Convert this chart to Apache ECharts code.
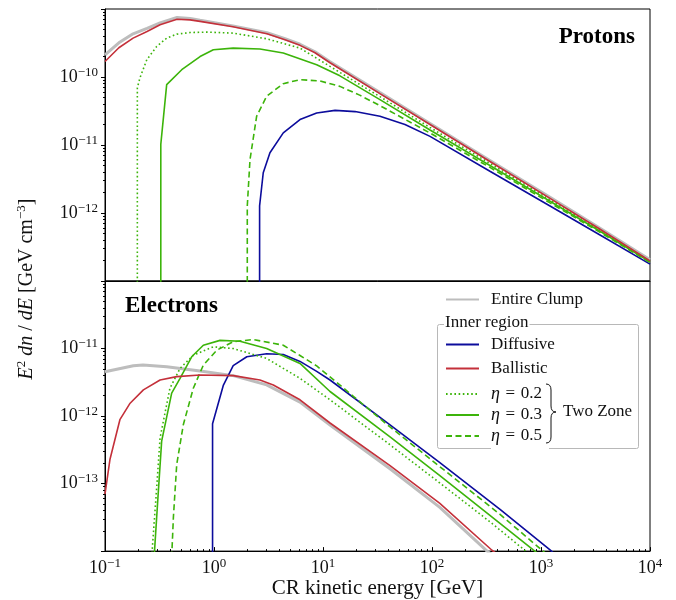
<!DOCTYPE html>
<html>
<head>
<meta charset="utf-8">
<script src="https://cdn.jsdelivr.net/npm/echarts@6/dist/echarts.min.js"></script>
<style>html,body{margin:0;padding:0;background:#fff}#c{width:676px;height:600px}</style>
</head>
<body>
<div id="c"></div>
<script>
// ---- Data: [CR kinetic energy (GeV), E^2 dN/dE (GeV cm^-3)] ----
const protonClump = [[0.1,2.12e-10],[0.134,3.18e-10],[0.181,4.32e-10],[0.243,5.2e-10],[0.320,6.25e-10],[0.458,7.53e-10],[0.603,7.28e-10],[0.745,6.81e-10],[1.49,5.65e-10],[3.06,4.47e-10],[4.48,3.65e-10],[6.15,3.03e-10],[8.45,2.35e-10],[11.6,1.68e-10],[33.3,5.89e-11],[95.9,2.07e-11],[340,5.93e-12],[1210,1.70e-12],[3480,5.97e-13],[1e4,2.06e-13]];
const protonBallistic = [[0.1,1.69e-10],[0.134,2.69e-10],[0.181,3.73e-10],[0.243,4.67e-10],[0.320,5.85e-10],[0.458,7.08e-10],[0.603,6.92e-10],[0.745,6.58e-10],[1.49,5.47e-10],[3.06,4.32e-10],[4.48,3.52e-10],[6.15,2.92e-10],[8.45,2.27e-10],[11.6,1.62e-10],[33.3,5.69e-11],[95.9,2.0e-11],[340,5.73e-12],[1210,1.64e-12],[3480,5.77e-13],[1e4,1.98e-13]];
const protonDiffusive = [[2.62,1e-20],[2.62,1.27e-12],[2.83,3.91e-12],[3.26,7.69e-12],[4.32,1.51e-11],[6.15,2.37e-11],[8.75,2.96e-11],[12.9,3.23e-11],[19.7,3.10e-11],[33.3,2.64e-11],[56.5,2.0e-11],[95.9,1.34e-11],[340,4.11e-12],[1210,1.27e-12],[3480,4.74e-13],[1e4,1.77e-13]];
const protonEta02 = [[0.198,1e-20],[0.198,6.9e-11],[0.209,9.66e-11],[0.242,1.80e-10],[0.298,2.81e-10],[0.368,3.73e-10],[0.455,4.27e-10],[0.603,4.51e-10],[0.857,4.57e-10],[1.50,4.42e-10],[3.04,3.65e-10],[6.15,2.66e-10],[11.6,1.43e-10],[33.3,5.14e-11],[95.9,1.81e-11],[340,5.36e-12],[1210,1.56e-12],[3480,5.57e-13],[1e4,1.94e-13]];
const protonEta03 = [[0.325,1e-20],[0.325,1.02e-11],[0.368,7.71e-11],[0.506,1.28e-10],[0.745,2.0e-10],[0.986,2.51e-10],[1.50,2.66e-10],[2.64,2.58e-10],[4.32,2.25e-10],[8.75,1.51e-10],[14.3,1.04e-10],[33.3,4.65e-11],[95.9,1.66e-11],[340,5.0e-12],[1210,1.49e-12],[3480,5.39e-13],[1e4,1.91e-13]];
const protonEta05 = [[2.02,1e-20],[2.02,1.27e-12],[2.14,6.12e-12],[2.46,2.64e-11],[3.04,5.2e-11],[4.32,7.98e-11],[6.15,9.13e-11],[9.38,8.73e-11],[14.3,7.28e-11],[21.7,5.41e-11],[33.3,3.79e-11],[95.9,1.50e-11],[340,4.68e-12],[1210,1.41e-12],[3480,5.21e-13],[1e4,1.87e-13]];

const electronClump = [[0.1,4.54e-12],[0.182,5.57e-12],[0.223,5.72e-12],[0.368,5.38e-12],[0.745,4.64e-12],[1.50,3.97e-12],[3.04,2.89e-12],[6.15,1.61e-12],[11.6,7.38e-13],[41.2,1.66e-13],[118,4.44e-14],[320,1.0e-14],[378,8.2e-15]];
const electronBallistic = [[0.1,6.97e-14],[0.111,2.27e-13],[0.137,8.83e-13],[0.170,1.55e-12],[0.225,2.44e-12],[0.320,3.42e-12],[0.455,3.84e-12],[0.745,4.05e-12],[1.50,3.97e-12],[2.64,3.42e-12],[3.50,2.89e-12],[6.15,1.74e-12],[11.6,7.89e-13],[41.2,1.84e-13],[118,5.08e-14],[355,1.03e-14],[421,8.4e-15]];
const electronDiffusive = [[0.97,1e-20],[0.97,7.71e-13],[1.22,2.88e-12],[1.50,5.57e-12],[2.0,7.55e-12],[3.04,8.36e-12],[4.32,8.16e-12],[6.15,6.44e-12],[8.75,4.59e-12],[11.6,3.42e-12],[41.2,7.38e-13],[118,2.04e-13],[421,4.15e-14],[1210,1.04e-14],[1374,8.7e-15]];
const electronEta02 = [[0.268,8.1e-15],[0.298,8.73e-14],[0.320,4.74e-13],[0.394,2.58e-12],[0.488,5.08e-12],[0.646,7.96e-12],[0.986,1.06e-11],[1.50,1.0e-11],[3.04,7.13e-12],[6.15,3.62e-12],[11.6,1.74e-12],[41.2,3.75e-13],[118,1.02e-13],[340,2.72e-14],[703,1.04e-14],[809,8.7e-15]];
const electronEta03 = [[0.282,7.9e-15],[0.306,6.22e-14],[0.331,4.25e-13],[0.409,2.18e-12],[0.488,3.62e-12],[0.624,7.55e-12],[0.798,1.12e-11],[1.135,1.32e-11],[1.73,1.28e-11],[3.04,1.0e-11],[6.15,6.02e-12],[11.6,2.31e-12],[41.2,4.91e-13],[118,1.31e-13],[340,3.38e-14],[849,1.04e-14],[979,8.7e-15]];
const electronEta05 = [[0.409,8e-15],[0.424,3.16e-14],[0.455,1.92e-13],[0.523,7.45e-13],[0.646,2.58e-12],[0.798,5.68e-12],[1.06,9.44e-12],[1.50,1.26e-11],[2.29,1.36e-11],[4.32,1.12e-11],[6.15,7.89e-12],[8.75,5.53e-12],[11.6,3.81e-12],[41.2,6.89e-13],[118,1.78e-13],[421,3.50e-14],[1014,1.04e-14],[1159,8.7e-15]];

// axis ranges (decades)
const xRange = [0.1, 1e4];
const yRangeProtons = [1e-13, 1e-9];
const yRangeElectrons = [1e-14, 1e-10];

const F = '"Liberation Serif", "DejaVu Serif", serif';
const TXT = '#111';

function minorLogs(lo, hi) { // log10 of k*10^n, k=2..9
  const out = [];
  for (let n = lo; n < hi; n++) for (let k = 2; k <= 9; k++) out.push(n + Math.log10(k));
  return out;
}
function sup(v, range) {
  if (range && (Math.abs(v / range[0] - 1) < 1e-6 || Math.abs(v / range[1] - 1) < 1e-6)) return '';
  const n = Math.round(Math.log10(v));
  return '{b|10}{s|' + String(n).replace('-', '\u2212') + '}';
}
const supRich = {
  b: { fontFamily: F, fontSize: 18, color: TXT, lineHeight: 22 },
  s: { fontFamily: F, fontSize: 13, color: TXT, verticalAlign: 'top' }
};

const grids = [
  { left: 105, top: 9, width: 545, height: 272, show: true, borderColor: '#000', borderWidth: 1 },
  { left: 105, top: 281, width: 545, height: 272, show: true, borderColor: '#000', borderWidth: 1 }
];

const hiddenLine = { show: false, onZero: false };
const xAxes = [
  { type: 'log', gridIndex: 0, min: xRange[0], max: xRange[1], logBase: 10,
    axisLine: { show: true, onZero: false, lineStyle: { color: '#000' } }, axisTick: { show: false }, axisLabel: { show: false }, splitLine: { show: false } },
  { type: 'log', gridIndex: 1, min: xRange[0], max: xRange[1], logBase: 10,
    axisLine: { show: true, onZero: false, lineStyle: { color: '#000' } },
    axisTick: { show: true, inside: true, length: 4, lineStyle: { color: '#000' } },
    axisLabel: { margin: 6, formatter: v => sup(v), rich: supRich },
    splitLine: { show: false },
    name: 'CR kinetic energy [GeV]', nameLocation: 'middle', nameGap: 26,
    nameTextStyle: { fontFamily: F, fontSize: 21, color: TXT, verticalAlign: 'top' } },
  { type: 'value', gridIndex: 1, min: Math.log10(xRange[0]), max: Math.log10(xRange[1]), position: 'bottom',
    axisLine: hiddenLine, axisLabel: { show: false }, splitLine: { show: false },
    axisTick: { show: true, inside: true, length: 2, customValues: minorLogs(-1, 4), lineStyle: { color: '#000' } } }
];
function yPair(grid, range) {
  return [
    { type: 'log', gridIndex: grid, min: range[0], max: range[1], logBase: 10, position: 'left',
      axisLine: { show: true, onZero: false, lineStyle: { color: '#000' } },
      axisTick: { show: true, inside: false, length: 4, lineStyle: { color: '#000' } },
      axisLabel: { margin: 7, formatter: v => sup(v, range), rich: supRich },
      splitLine: { show: false } },
    { type: 'value', gridIndex: grid, min: Math.log10(range[0]), max: Math.log10(range[1]), position: 'left',
      axisLine: hiddenLine, axisLabel: { show: false }, splitLine: { show: false },
      axisTick: { show: true, inside: false, length: 2, customValues: minorLogs(Math.round(Math.log10(range[0])), Math.round(Math.log10(range[1]))), lineStyle: { color: '#000' } } }
  ];
}
const yAxes = yPair(0, yRangeProtons).concat(yPair(1, yRangeElectrons));

const COL = { clump: '#bdbdbd', diff: '#0c0c9c', ball: '#c4303a', green: '#3cb40a' };
const DOT = [1.6, 2.6], DASH = [6, 3.5];
function mk(name, data, panel, color, width, type, z) {
  return { type: 'line', name, data, xAxisIndex: panel === 0 ? 0 : 1, yAxisIndex: panel === 0 ? 0 : 2,
    showSymbol: false, symbol: 'none', clip: true, z: z, animation: false,
    lineStyle: { color, width, type: type || 'solid', cap: 'butt' }, itemStyle: { color } };
}
const series = [
  mk('Entire Clump', protonClump, 0, COL.clump, 3, 'solid', 1),
  mk('Diffusive', protonDiffusive, 0, COL.diff, 1.6, 'solid', 2),
  mk('η = 0.2', protonEta02, 0, COL.green, 1.6, DOT, 2),
  mk('η = 0.3', protonEta03, 0, COL.green, 1.6, 'solid', 2),
  mk('η = 0.5', protonEta05, 0, COL.green, 1.6, DASH, 2),
  mk('Ballistic', protonBallistic, 0, COL.ball, 1.6, 'solid', 2),
  mk('Entire Clump', electronClump, 1, COL.clump, 3, 'solid', 1),
  mk('Diffusive', electronDiffusive, 1, COL.diff, 1.6, 'solid', 2),
  mk('η = 0.2', electronEta02, 1, COL.green, 1.6, DOT, 2),
  mk('η = 0.3', electronEta03, 1, COL.green, 1.6, 'solid', 2),
  mk('η = 0.5', electronEta05, 1, COL.green, 1.6, DASH, 2),
  mk('Ballistic', electronBallistic, 1, COL.ball, 1.6, 'solid', 2)
];

const legendText = {
  fontFamily: F, fontSize: 17, color: TXT, padding: [0, 0, 0, 7],
  rich: { i: { fontFamily: F, fontSize: 18, fontStyle: 'italic', color: TXT },
          r: { fontFamily: F, fontSize: 17, color: TXT } }
};
const legBase = { orient: 'vertical', itemWidth: 33, itemHeight: 14, selectedMode: false, textStyle: legendText, z: 6,
  backgroundColor: 'transparent', itemStyle: { opacity: 0, borderWidth: 0 } };
const legends = [
  Object.assign({}, legBase, { data: ['Entire Clump'], left: 440, top: 286 }),
  Object.assign({}, legBase, { data: ['Diffusive', 'Ballistic'], left: 440, top: 331, itemGap: 7 }),
  Object.assign({}, legBase, { data: ['η = 0.2', 'η = 0.3', 'η = 0.5'], left: 440, top: 380, itemGap: 3,
    formatter: n => '{i|η}{r| \u200a=\u200a ' + n.split('= ')[1] + '}' })
];

const braceStyle = { fill: 'none', stroke: '#111', lineWidth: 1 };
const graphics = [
  { type: 'rect', z: 3, shape: { x: 437.5, y: 324.5, width: 201, height: 124, r: 2 },
    style: { fill: 'rgba(255,255,255,0.85)', stroke: '#b8b8b8', lineWidth: 1 } },
  { type: 'rect', z: 4, shape: { x: 491, y: 446, width: 58, height: 5 }, style: { fill: '#fff' } },
  { type: 'text', z: 5, x: 444, y: 323, style: { text: 'Inner region', fontFamily: F, fontSize: 17, fill: TXT,
    verticalAlign: 'middle', align: 'left', backgroundColor: '#fff', padding: [0, 1] } },
  { type: 'bezierCurve', z: 5, shape: { x1: 546, y1: 384, x2: 551, y2: 390, cpx1: 551, cpy1: 384 }, style: braceStyle },
  { type: 'line', z: 5, shape: { x1: 551, y1: 390, x2: 551, y2: 406 }, style: braceStyle },
  { type: 'bezierCurve', z: 5, shape: { x1: 551, y1: 406, x2: 556, y2: 412, cpx1: 551, cpy1: 412 }, style: braceStyle },
  { type: 'bezierCurve', z: 5, shape: { x1: 556, y1: 412, x2: 551, y2: 418, cpx1: 551, cpy1: 412 }, style: braceStyle },
  { type: 'line', z: 5, shape: { x1: 551, y1: 418, x2: 551, y2: 437 }, style: braceStyle },
  { type: 'bezierCurve', z: 5, shape: { x1: 551, y1: 437, x2: 546, y2: 443, cpx1: 551, cpy1: 443 }, style: braceStyle },
  { type: 'text', z: 5, x: 563, y: 412, style: { text: 'Two Zone', fontFamily: F, fontSize: 17, fill: TXT, verticalAlign: 'middle', align: 'left' } },
  { type: 'text', z: 5, x: 635, y: 37, style: { text: 'Protons', fontFamily: F, fontSize: 23, fontWeight: 'bold', fill: '#000', verticalAlign: 'middle', align: 'right' } },
  { type: 'text', z: 5, x: 125, y: 306, style: { text: 'Electrons', fontFamily: F, fontSize: 23, fontWeight: 'bold', fill: '#000', verticalAlign: 'middle', align: 'left' } },
  { type: 'text', z: 5, x: 27, y: 289, rotation: Math.PI / 2,
    style: { text: '{i|E}{s|2}{r| }{i|dn}{r| / }{i|dE}{r| [GeV cm}{s|\u22123}{r|]}', align: 'center', verticalAlign: 'middle',
      rich: { i: { fontFamily: F, fontSize: 20, fontStyle: 'italic', fill: TXT, lineHeight: 24 },
              r: { fontFamily: F, fontSize: 20, fill: TXT, lineHeight: 24 },
              s: { fontFamily: F, fontSize: 13, fill: TXT, verticalAlign: 'top' } } } }
];

const chart = echarts.init(document.getElementById('c'), null, { renderer: 'canvas' });
chart.setOption({
  animation: false,
  backgroundColor: '#fff',
  grid: grids,
  xAxis: xAxes,
  yAxis: yAxes,
  legend: legends,
  series: series,
  graphic: graphics
});
</script>
</body>
</html>
